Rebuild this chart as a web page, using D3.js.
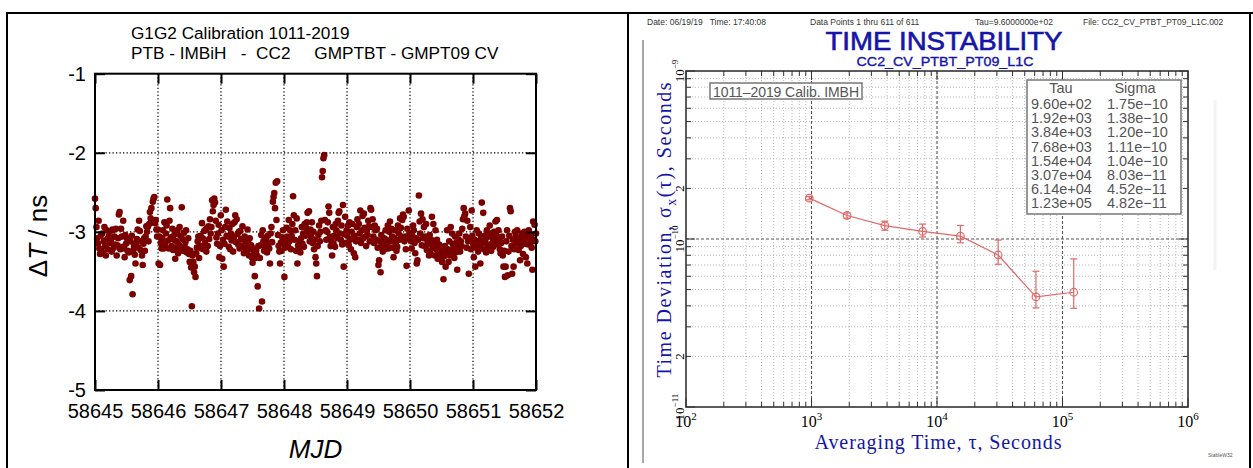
<!DOCTYPE html>
<html>
<head>
<meta charset="utf-8">
<script src="https://cdn.jsdelivr.net/npm/d3@7"></script>
<style>
  html, body { margin: 0; padding: 0; background: #fff; }
  svg { display: block; }
</style>
</head>
<body>
<svg id="fig" width="1253" height="468"></svg>
<script>
// ---------- Panel A: CV time differences PTB - IMBiH (CC2) ----------
const mjdStart = 58645;
const mjdEnd = 58652;
const mjdTicks = [58645, 58646, 58647, 58648, 58649, 58650, 58651, 58652];
const dtTicks = [-5, -4, -3, -2, -1];
const titleLines = [
  "G1G2 Calibration 1011-2019",
  "PTB - IMBiH   -  CC2     GMPTBT - GMPT09 CV"
];
// Delta T in ns, one value per CV track, evenly spaced from MJD 58645 to 58652
const deltaT = [
  // 58645
  -2.58,-2.70,-2.94,-3.08,-3.15,-2.86,-3.21,-3.28,-3.05,-3.24,
  -3.02,-3.27,-3.12,-2.94,-3.18,-3.30,-2.98,-3.09,-3.22,-3.06,
  -3.00,-3.14,-3.11,-3.25,-2.97,-2.98,-3.20,-3.06,-3.16,-2.96,
  -3.30,-3.17,-3.08,-2.78,-2.75,-3.22,-2.96,-3.06,-3.19,-2.86,
  -3.21,-3.32,-3.04,-3.15,-3.08,-3.24,-3.10,-3.26,-3.61,-3.12,
  -3.56,-3.05,-3.79,-3.23,-3.18,-3.29,-3.40,-3.14,-3.09,-2.97,
  -3.20,-2.86,-2.99,-3.23,-3.12,-3.30,-3.42,-3.15,-3.08,-3.24,
  -3.06,-2.93,-3.00,-2.94,-3.12,-2.90,-2.75,-2.83,-2.70,-2.88,
  -2.62,-2.58,-2.56,-2.89,-2.85,-2.97,-3.06,
  // 58646
  -2.97,-3.40,-3.06,-3.42,-3.14,-3.21,-3.08,-2.98,-3.21,-2.88,
  -3.15,-3.02,-2.92,-2.59,-3.11,-3.21,-2.86,-2.70,-3.07,-3.18,
  -2.96,-3.23,-3.10,-3.03,-3.34,-3.20,-3.12,-2.98,-3.27,-3.16,
  -2.94,-3.05,-3.22,-2.69,-3.09,-3.24,-3.01,-3.19,-3.13,-2.98,
  -3.26,-3.22,-3.08,-3.28,-3.38,-3.24,-3.45,-3.94,-3.30,-3.38,
  -3.51,-3.44,-3.57,-3.27,-3.20,-3.12,-3.06,-3.33,-3.18,-3.05,
  -3.21,-2.89,-3.08,-3.22,-2.99,-3.14,-2.97,-3.25,-2.95,-3.18,
  -2.93,-3.09,-2.84,-3.02,-2.94,-2.60,-2.74,-2.66,-2.58,-2.63,
  -2.86,-3.07,-3.15,-3.02,-2.91,-3.32,-3.18,
  // 58647
  -2.79,-2.98,-3.34,-3.10,-3.44,-3.15,-2.94,-2.72,-3.05,-2.87,
  -3.06,-3.19,-2.95,-3.22,-3.02,-3.11,-2.90,-3.25,-3.08,-2.88,
  -2.79,-3.13,-2.84,-3.03,-3.16,-3.00,-3.21,-2.99,-3.09,-3.18,
  -2.93,-3.10,-3.27,-3.06,-3.20,-3.12,-3.25,-2.97,-3.14,-3.30,
  -3.08,-3.22,-3.17,-3.32,-3.39,-3.21,-3.28,-3.56,-3.33,-3.24,
  -3.30,-3.69,-3.18,-3.97,-3.33,-3.17,-3.04,-3.88,-2.98,-3.12,
  -3.24,-3.08,-3.19,-3.11,-3.26,-3.05,-3.15,-3.21,-3.40,-3.02,
  -2.94,-3.13,-2.62,-2.56,-2.51,-2.70,-2.38,-2.85,-2.36,-3.04,
  -3.18,-3.25,-3.40,-3.14,-3.24,-3.07,-2.98,
  // 58648
  -3.14,-3.57,-3.20,-3.08,-2.95,-3.06,-3.18,-2.85,-3.12,-2.98,
  -3.22,-3.05,-2.90,-2.55,-2.79,-3.10,-2.98,-3.24,-2.83,-3.40,
  -3.17,-3.20,-3.11,-3.26,-3.08,-2.94,-3.15,-3.02,-3.19,-2.90,
  -3.05,-2.95,-2.88,-2.76,-3.00,-2.74,-3.12,-2.97,-3.06,-2.88,
  -3.14,-3.00,-3.22,-3.10,-3.32,-3.40,-3.56,-3.18,-3.04,-2.92,
  -3.12,-3.00,-2.86,-2.31,-2.23,-2.07,-2.03,
  -2.85,-2.98,-3.10,-3.00,-2.88,-2.68,-2.76,-3.06,-3.18,-3.12,
  -3.30,-2.94,-3.15,-3.05,-3.19,-2.90,-2.98,-3.08,-2.86,-2.76,
  -2.74,-3.02,-3.10,-2.92,-3.16,-2.66,-3.44,-3.03,-2.81,-3.14,
  -2.98,
  // 58649
  -3.05,-2.92,-3.17,-2.88,-3.10,-3.22,-3.00,-2.90,-3.08,-3.27,
  -3.05,-3.32,-3.12,-2.94,-2.84,-3.10,-2.90,-3.02,-2.73,-3.14,
  -2.98,-2.80,-3.08,-2.77,-2.95,-3.06,-3.18,-2.98,-3.04,-2.86,
  -2.93,-3.12,-2.70,-2.72,-2.94,-2.84,-3.06,-3.14,-2.92,-2.98,
  -3.10,-2.96,-3.20,-3.42,-3.36,-3.12,-3.51,-3.04,-3.15,-3.25,
  -3.19,-3.08,-3.22,-2.98,-3.10,-3.15,-2.92,-3.21,-3.00,-2.87,
  -3.12,-2.96,-3.06,-3.20,-3.32,-3.08,-2.98,-3.14,-3.24,-3.19,
  -2.92,-3.02,-3.10,-2.83,-2.95,-3.06,-2.85,-2.78,-2.81,-3.12,
  -3.06,-3.22,-3.43,-2.96,-3.08,-2.73,-3.02,
  // 58650
  -3.02,-3.12,-3.21,-3.05,-2.92,-2.98,-3.14,-3.27,-3.08,-3.40,
  -3.36,-3.10,-2.54,-2.87,-3.02,-2.77,-3.17,-2.84,-3.08,-2.94,
  -3.18,-3.06,-2.90,-3.23,-3.12,-3.15,-3.30,-3.04,-3.27,-3.10,
  -2.81,-3.20,-2.90,-3.14,-3.30,-2.98,-3.22,-3.10,-3.34,-3.25,
  -3.16,-3.32,-3.29,-3.20,-3.38,-3.26,-3.60,-3.31,-3.18,-3.44,
  -3.28,-2.98,-3.22,-3.38,-3.12,-3.30,-2.94,-3.24,-3.02,-3.15,
  -3.19,-3.33,-3.06,-3.26,-3.14,-3.48,-3.20,-3.10,-3.02,-3.25,
  -3.12,-3.18,-2.96,-2.84,-2.70,-2.80,-2.77,-3.06,-3.20,-2.86,
  -3.12,-3.53,-3.08,-2.94,-3.22,-2.73,-3.05,
  // 58651
  -3.15,-3.32,-3.10,-3.44,-3.20,-2.98,-3.12,-3.25,-3.02,-3.18,
  -3.40,-3.08,-2.63,-3.14,-2.76,-3.22,-3.05,-3.10,-3.26,-2.98,
  -3.16,-3.06,-3.20,-2.92,-3.02,-3.24,-3.15,-3.08,-3.19,-3.00,
  -3.12,-2.87,-3.04,-2.85,-3.16,-2.98,-3.10,-3.22,-3.27,-3.14,
  -3.06,-3.30,-3.44,-3.24,-3.57,-3.44,-3.12,-2.98,-3.55,-3.25,
  -3.05,-2.70,-2.74,-3.18,-3.53,-3.10,-3.44,-3.22,-3.00,-3.06,
  -3.15,-2.98,-3.08,-3.23,-3.12,-3.36,-3.18,-3.02,-3.06,-3.28,
  -3.10,-3.00,-3.15,-3.32,-3.05,-3.40,-3.16,-2.98,-3.08,-3.15,
  -3.04,-3.20,-3.48,-2.87,-3.10,-2.91,-3.12,-3.02
];

// ---------- Panel B: time deviation (TDEV) ----------
const headerTexts = [
  "Date: 06/19/19   Time: 17:40:08",
  "Data Points 1 thru 611 of 611",
  "Tau=9.6000000e+02",
  "File: CC2_CV_PTBT_PT09_L1C.002"
];
const tau = [960, 1920, 3840, 7680, 15360, 30720, 61440, 122880];
const sigma = [1.75e-10, 1.38e-10, 1.20e-10, 1.11e-10, 1.04e-10, 8.03e-11, 4.52e-11, 4.82e-11];
const sigmaLow = [1.71e-10, 1.33e-10, 1.128e-10, 1.027e-10, 9.49e-11, 7.07e-11, 3.89e-11, 3.87e-11];
const sigmaHigh = [1.79e-10, 1.43e-10, 1.277e-10, 1.227e-10, 1.204e-10, 9.86e-11, 6.43e-11, 7.61e-11];
const tauDecades = [1e2, 1e3, 1e4, 1e5, 1e6];
const sigmaDecades = [1e-11, 1e-10, 1e-9];

const SANS = "'Liberation Sans', Arial, Helvetica, sans-serif";
const SERIF = "'Liberation Serif', 'Times New Roman', serif";
const svg = d3.select("#fig");

// ---------- outer frame ----------
const frame = svg.append("g").attr("stroke", "#000").attr("stroke-width", 2);
frame.append("line").attr("x1", 6).attr("x2", 1253).attr("y1", 13).attr("y2", 13);
frame.append("line").attr("x1", 7).attr("x2", 7).attr("y1", 12).attr("y2", 468);
frame.append("line").attr("x1", 628).attr("x2", 628).attr("y1", 12).attr("y2", 468);
frame.append("line").attr("x1", 1250).attr("x2", 1250).attr("y1", 12).attr("y2", 468);
svg.append("line").attr("x1", 643).attr("x2", 643).attr("y1", 40).attr("y2", 463)
  .attr("stroke", "#a8a8a8").attr("stroke-width", 2);
svg.append("line").attr("x1", 1215).attr("x2", 1215).attr("y1", 100).attr("y2", 270)
  .attr("stroke", "#f3f3f3").attr("stroke-width", 3);

// ================= Panel A =================
const A = { l: 95, r: 536, t: 73.7, b: 390 };
const xA = d3.scaleLinear().domain([mjdStart, mjdEnd]).range([A.l, A.r]);
const yA = d3.scaleLinear().domain([dtTicks[0], dtTicks[dtTicks.length - 1]]).range([A.b, A.t]);
const mjdStep = (mjdEnd - mjdStart) / (deltaT.length - 1);
const gA = svg.append("g");

gA.append("g").selectAll("text").data(titleLines).join("text")
  .attr("x", 131).attr("y", (d, i) => 39 + i * 20)
  .attr("font-family", SANS).attr("font-size", 17.2).attr("fill", "#000")
  .style("white-space", "pre").text(d => d);

const gridA = gA.append("g").attr("stroke", "#000").attr("stroke-width", 1.2)
  .attr("stroke-dasharray", "1.3,2.2");
gridA.selectAll("line.v").data(mjdTicks.slice(1, -1)).join("line").attr("class", "v")
  .attr("x1", d => xA(d)).attr("x2", d => xA(d)).attr("y1", A.t).attr("y2", A.b);
gridA.selectAll("line.h").data(dtTicks.slice(1, -1)).join("line").attr("class", "h")
  .attr("x1", A.l).attr("x2", A.r).attr("y1", d => yA(d)).attr("y2", d => yA(d));

gA.append("g").selectAll("circle").data(deltaT).join("circle")
  .attr("cx", (d, i) => xA(mjdStart + i * mjdStep))
  .attr("cy", d => yA(d))
  .attr("r", 3.3)
  .attr("fill", "#7a0000");

function styleAxisA(g) {
  g.select(".domain").remove();
  g.selectAll(".tick line").attr("stroke", "#000").attr("stroke-width", 2);
  g.selectAll(".tick text").attr("font-family", SANS).attr("font-size", 20).attr("fill", "#000");
}
const plainInt = d => String(d);
gA.append("g").attr("transform", `translate(0,${A.b})`)
  .call(d3.axisBottom(xA).tickValues(mjdTicks).tickSize(-10).tickPadding(14).tickFormat(plainInt))
  .call(styleAxisA);
gA.append("g").attr("transform", `translate(0,${A.t})`)
  .call(d3.axisTop(xA).tickValues(mjdTicks).tickSize(-10).tickFormat(""))
  .call(styleAxisA);
gA.append("g").attr("transform", `translate(${A.l},0)`)
  .call(d3.axisLeft(yA).tickValues(dtTicks).tickSize(-10).tickPadding(9).tickFormat(plainInt))
  .call(styleAxisA);
gA.append("g").attr("transform", `translate(${A.r},0)`)
  .call(d3.axisRight(yA).tickValues(dtTicks).tickSize(-10).tickFormat(""))
  .call(styleAxisA);

gA.append("rect").attr("x", A.l).attr("y", A.t).attr("width", A.r - A.l).attr("height", A.b - A.t)
  .attr("fill", "none").attr("stroke", "#000").attr("stroke-width", 2);

const yLabA = gA.append("text").attr("transform", "translate(47,236) rotate(-90)")
  .attr("text-anchor", "middle").attr("font-family", SANS).attr("font-size", 26).attr("fill", "#000");
yLabA.append("tspan").text("\u0394");
yLabA.append("tspan").attr("font-style", "italic").text("T");
yLabA.append("tspan").text(" / ns");

gA.append("text").attr("x", (A.l + A.r) / 2).attr("y", 458).attr("text-anchor", "middle")
  .attr("font-family", SANS).attr("font-size", 26).attr("font-style", "italic").attr("fill", "#000")
  .text("MJD");

// ================= Panel B =================
const B = { l: 686, r: 1188, t: 71, b: 407 };
const xB = d3.scaleLog().domain([tauDecades[0], tauDecades[tauDecades.length - 1]]).range([B.l, B.r]);
const yB = d3.scaleLog().domain([sigmaDecades[0], sigmaDecades[sigmaDecades.length - 1]]).range([B.b, B.t]);
const isDecade = v => Math.abs(Math.log10(v) - Math.round(Math.log10(v))) < 1e-6;
const xTicksB = xB.ticks();
const yTicksB = yB.ticks();
const gB = svg.append("g");
const BLUE = "#1515aa";

// header line
const headerX = [647, 810, 975, 1083];
gB.append("g").selectAll("text").data(headerTexts).join("text")
  .attr("x", (d, i) => headerX[i]).attr("y", 25)
  .attr("font-family", SANS).attr("font-size", 8.5).attr("fill", "#333")
  .style("white-space", "pre").text(d => d);

gB.append("text").attr("x", 944).attr("y", 49.5).attr("text-anchor", "middle")
  .attr("font-family", SANS).attr("font-size", 25).attr("fill", BLUE)
  .attr("stroke", BLUE).attr("stroke-width", 0.6)
  .attr("textLength", 237).attr("lengthAdjust", "spacingAndGlyphs")
  .text("TIME INSTABILITY");
gB.append("text").attr("x", 945).attr("y", 66).attr("text-anchor", "middle")
  .attr("font-family", SANS).attr("font-size", 12.5).attr("fill", BLUE)
  .attr("stroke", BLUE).attr("stroke-width", 0.35)
  .attr("textLength", 177).attr("lengthAdjust", "spacingAndGlyphs")
  .text("CC2_CV_PTBT_PT09_L1C");

// grid
const minorX = xTicksB.filter(v => !isDecade(v));
const minorY = yTicksB.filter(v => !isDecade(v));
const majorX = xTicksB.filter(isDecade).slice(1, -1);
const majorY = yTicksB.filter(isDecade).slice(1, -1);
const gridB = gB.append("g");
gridB.selectAll("line.mx").data(minorX).join("line").attr("class", "mx")
  .attr("x1", d => xB(d)).attr("x2", d => xB(d)).attr("y1", B.t).attr("y2", B.b)
  .attr("stroke", "#b8b8b8").attr("stroke-width", 1).attr("stroke-dasharray", "1,2");
gridB.selectAll("line.my").data(minorY).join("line").attr("class", "my")
  .attr("x1", B.l).attr("x2", B.r).attr("y1", d => yB(d)).attr("y2", d => yB(d))
  .attr("stroke", "#b8b8b8").attr("stroke-width", 1).attr("stroke-dasharray", "1,2");
gridB.selectAll("line.Mx").data(majorX).join("line").attr("class", "Mx")
  .attr("x1", d => xB(d)).attr("x2", d => xB(d)).attr("y1", B.t).attr("y2", B.b)
  .attr("stroke", "#555").attr("stroke-width", 1.1).attr("stroke-dasharray", "3,2");
gridB.selectAll("line.My").data(majorY).join("line").attr("class", "My")
  .attr("x1", B.l).attr("x2", B.r).attr("y1", d => yB(d)).attr("y2", d => yB(d))
  .attr("stroke", "#555").attr("stroke-width", 1.1).attr("stroke-dasharray", "3,2");

// inward ticks on all four sides
const tickLen = v => (isDecade(v) ? 9 : 5);
const ticksB = gB.append("g").attr("stroke", "#333").attr("stroke-width", 1);
ticksB.selectAll("line.tb").data(xTicksB).join("line").attr("class", "tb")
  .attr("x1", d => xB(d)).attr("x2", d => xB(d)).attr("y1", B.b).attr("y2", d => B.b - tickLen(d));
ticksB.selectAll("line.tt").data(xTicksB).join("line").attr("class", "tt")
  .attr("x1", d => xB(d)).attr("x2", d => xB(d)).attr("y1", B.t).attr("y2", d => B.t + tickLen(d));
ticksB.selectAll("line.tl").data(yTicksB).join("line").attr("class", "tl")
  .attr("y1", d => yB(d)).attr("y2", d => yB(d)).attr("x1", B.l).attr("x2", d => B.l + tickLen(d));
ticksB.selectAll("line.tr").data(yTicksB).join("line").attr("class", "tr")
  .attr("y1", d => yB(d)).attr("y2", d => yB(d)).attr("x1", B.r).attr("x2", d => B.r - tickLen(d));

// annotation box
gB.append("rect").attr("x", 710).attr("y", 83).attr("width", 152).attr("height", 16)
  .attr("fill", "#fff").attr("stroke", "#777").attr("stroke-width", 1.5);
gB.append("text").attr("x", 713).attr("y", 96.5).attr("font-family", SANS).attr("font-size", 14)
  .attr("fill", "#555").attr("textLength", 146).attr("lengthAdjust", "spacing")
  .text("1011\u20132019 Calib. IMBH");

// table of tau / sigma
const fmtSci = v => {
  const [m, e] = v.toExponential(2).split("e");
  const n = +e;
  return m + "e" + (n < 0 ? "\u2212" : "+") + String(Math.abs(n)).padStart(2, "0");
};
gB.append("rect").attr("x", 1027).attr("y", 80).attr("width", 154).attr("height", 134)
  .attr("fill", "#fff").attr("stroke", "#777").attr("stroke-width", 1.5);
const tbl = gB.append("g").attr("font-family", SANS).attr("font-size", 14.5).attr("fill", "#555");
tbl.append("text").attr("x", 1061).attr("y", 93).attr("text-anchor", "middle").text("Tau");
tbl.append("text").attr("x", 1135).attr("y", 93).attr("text-anchor", "middle").text("Sigma");
tbl.selectAll("text.tau").data(tau).join("text").attr("class", "tau")
  .attr("x", 1031).attr("y", (d, i) => 109 + i * 14.2).text(d => fmtSci(d));
tbl.selectAll("text.sig").data(sigma).join("text").attr("class", "sig")
  .attr("x", 1107).attr("y", (d, i) => 109 + i * 14.2).text(d => fmtSci(d));

// frame
gB.append("rect").attr("x", B.l).attr("y", B.t).attr("width", B.r - B.l).attr("height", B.b - B.t)
  .attr("fill", "none").attr("stroke", "#333").attr("stroke-width", 1.6);

// TDEV curve with error bars
const RED = "#e06868";
const pts = tau.map((t, i) => ({ t, s: sigma[i], lo: sigmaLow[i], hi: sigmaHigh[i] }));
gB.append("path").datum(pts)
  .attr("d", d3.line().x(d => xB(d.t)).y(d => yB(d.s)))
  .attr("fill", "none").attr("stroke", RED).attr("stroke-width", 1.2);
const eb = gB.append("g").attr("stroke", RED).attr("stroke-width", 1.2);
eb.selectAll("line.bar").data(pts).join("line").attr("class", "bar")
  .attr("x1", d => xB(d.t)).attr("x2", d => xB(d.t)).attr("y1", d => yB(d.lo)).attr("y2", d => yB(d.hi));
eb.selectAll("line.cap1").data(pts).join("line").attr("class", "cap1")
  .attr("x1", d => xB(d.t) - 3.5).attr("x2", d => xB(d.t) + 3.5).attr("y1", d => yB(d.lo)).attr("y2", d => yB(d.lo));
eb.selectAll("line.cap2").data(pts).join("line").attr("class", "cap2")
  .attr("x1", d => xB(d.t) - 3.5).attr("x2", d => xB(d.t) + 3.5).attr("y1", d => yB(d.hi)).attr("y2", d => yB(d.hi));
gB.append("g").selectAll("circle").data(pts).join("circle")
  .attr("cx", d => xB(d.t)).attr("cy", d => yB(d.s)).attr("r", 3.8)
  .attr("fill", "none").attr("stroke", RED).attr("stroke-width", 1.2);

// x tick labels (powers of ten)
const xl = gB.append("g").selectAll("text").data(tauDecades).join("text")
  .attr("x", d => xB(d)).attr("y", 427).attr("text-anchor", "middle")
  .attr("font-family", SERIF).attr("font-size", 16).attr("fill", "#000");
xl.append("tspan").text("10");
xl.append("tspan").attr("dy", -7).attr("font-size", 11).text(d => Math.round(Math.log10(d)));

// y tick labels (rotated)
const yLabelVals = yTicksB.filter(v => isDecade(v) || Math.abs(v / Math.pow(10, Math.floor(Math.log10(v) + 1e-9)) - 2) < 1e-6);
const yl = gB.append("g").selectAll("text").data(yLabelVals).join("text")
  .attr("transform", d => `translate(684,${yB(d)}) rotate(-90)`).attr("text-anchor", "middle")
  .attr("font-family", SERIF).attr("font-size", 13).attr("fill", "#000");
yl.each(function (d) {
  const t = d3.select(this);
  if (isDecade(d)) {
    t.append("tspan").text("10");
    t.append("tspan").attr("dy", -6).attr("font-size", 9)
      .text(String(Math.round(Math.log10(d))).replace("-", "\u2212"));
  } else {
    t.text("2");
  }
});

// axis titles
const yTitle = gB.append("text").attr("transform", "translate(671,230) rotate(-90)")
  .attr("text-anchor", "middle").attr("font-family", SERIF).attr("font-size", 20).attr("fill", BLUE)
  .attr("textLength", 295).attr("lengthAdjust", "spacing");
yTitle.append("tspan").text("Time Deviation, \u03c3");
yTitle.append("tspan").attr("dy", 5).attr("font-size", 14).text("x");
yTitle.append("tspan").attr("dy", -5).text("(\u03c4), Seconds");

gB.append("text").attr("x", 938).attr("y", 449).attr("text-anchor", "middle")
  .attr("font-family", SERIF).attr("font-size", 20).attr("fill", BLUE)
  .attr("textLength", 247).attr("lengthAdjust", "spacing")
  .text("Averaging Time, \u03c4, Seconds");

gB.append("text").attr("x", 1208).attr("y", 457).attr("font-family", SANS).attr("font-size", 5)
  .attr("fill", "#555").text("StableW32");
</script>
</body>
</html>
